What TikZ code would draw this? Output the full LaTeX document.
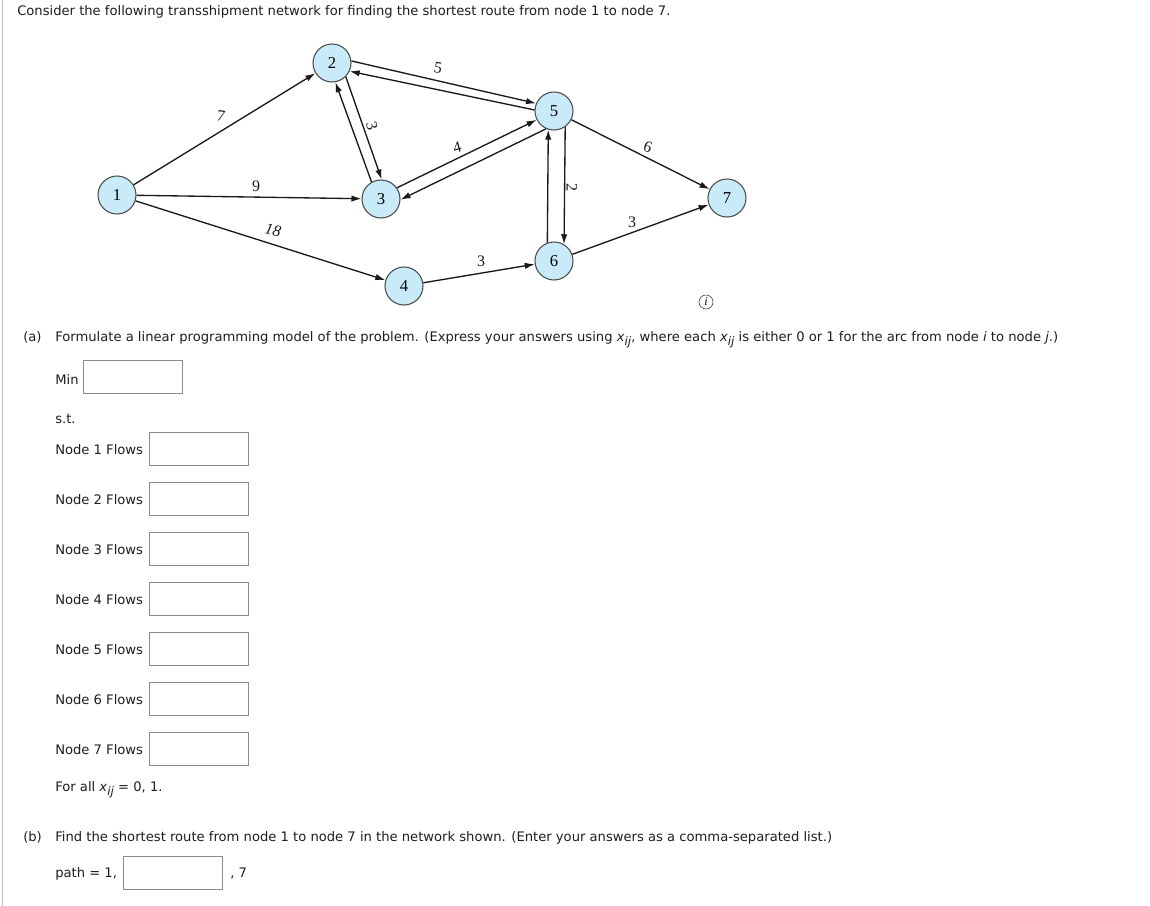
\documentclass[tikz,border=0pt]{standalone}
\usepackage{fontspec}
\setmainfont{DejaVu Sans}
\newfontfamily\netfont{Liberation Serif}
\usetikzlibrary{arrows.meta,calc}
\definecolor{nodefill}{RGB}{200,234,249}
\definecolor{txtcol}{RGB}{30,30,30}
\definecolor{boxline}{RGB}{140,140,140}
\newcommand{\xij}{\textit{x}\raisebox{-3.5pt}{\small\itshape ij}}
\begin{document}
\begin{tikzpicture}[x=0.75pt,y=-0.75pt,
 vert/.style={circle,draw=black!70,fill=nodefill,line width=0.8pt,minimum size=28.5pt,inner sep=0pt,font=\netfont\fontsize{12.5}{12.5}\selectfont},
 arc/.style={draw=black!90,line width=1pt,-{Latex[length=7.5pt,width=4.8pt]}},
 wt/.style={font=\netfont\fontsize{12}{12}\selectfont,inner sep=0pt,text=black!90},
 txt/.style={anchor=base west,inner sep=0pt,font=\fontsize{9.85}{12}\selectfont,text=txtcol},
 ansbox/.style={draw=boxline,line width=0.75pt,minimum width=74pt,minimum height=25pt,inner sep=0pt,anchor=north west}
]
\useasboundingbox (0,0) rectangle (1150,906);
\draw[black!25,line width=0.75pt] (2,0) -- (2,906);

% network
\node[vert] (n1) at (117,195) {1};
\node[vert] (n2) at (332,63) {2};
\node[vert] (n3) at (381,199) {3};
\node[vert] (n4) at (404,286) {4};
\node[vert] (n5) at (554,111) {5};
\node[vert] (n6) at (554,261) {6};
\node[vert] (n7) at (727,198) {7};

\draw[arc] (n1) -- (n2);
\draw[arc] (n1) -- (n3);
\draw[arc] (n1) -- (n4);
\draw[arc] (n4) -- (n6);
\draw[arc] (n5) -- (n7);
\draw[arc] (n6) -- (n7);
\draw[arc] (n2.6) -- (n5.157);
\draw[arc] (n5.177) -- (n2.-25);
\draw[arc] (n2.-45) -- (n3.88);
\draw[arc] (n3.119) -- (n2.-80);
\draw[arc] (n3.35) -- (n5.-153);
\draw[arc] (n5.-114) -- (n3.-2);
\draw[arc] (n6.110) -- (n5.-107);
\draw[arc] (n5.-55) -- (n6.59);

\node[wt,rotate=-10] (w12) at (221,116) {7};
\node[wt] (w13) at (256,186) {9};
\node[wt,rotate=-12] (w14) at (273,230) {\itshape 18};
\node[wt,rotate=-75] (w23) at (372,126) {3};
\node[wt,rotate=-8] (w25) at (438,68) {5};
\node[wt,rotate=15] (w35) at (457,147) {4};
\node[wt,rotate=-90] (w56) at (572,187) {2};
\node[wt,rotate=-20] (w57) at (648,147) {6};
\node[wt] (w67) at (632,222) {3};
\node[wt] (w46) at (481,261) {3};

\node[circle,draw=black!70,line width=0.5pt,minimum size=10.5pt,inner sep=0pt,font=\netfont\itshape\fontsize{9}{9}\selectfont] (info) at (706,302) {i};

% text
\node[txt] (t0) at (17,16) {Consider the following transshipment network for finding the shortest route from node 1 to node 7.};
\node[txt] (ta) at (23,341) {(a)};
\node[txt] (ta2) at (55,341) {Formulate a linear programming model of the problem. (Express your answers using \xij, where each \xij{} is either 0 or 1 for the arc from node \textit{i} to node \textit{j}.)};
\node[txt] (tmin) at (55,384) {Min};
\node[ansbox] (bmin) at (83,360) {};
\node[txt] (tst) at (55,423) {s.t.};
\foreach \k in {1,...,7}{
  \node[txt] (tf\k) at (55,{454+50*(\k-1)}) {Node \k{} Flows};
  \node[ansbox] (bf\k) at (149,{432+50*(\k-1)}) {};
}
\node[txt] (tall) at (55,791) {For all \xij{} = 0, 1.};
\node[txt] (tb) at (23,841) {(b)};
\node[txt] (tb2) at (55,841) {Find the shortest route from node 1 to node 7 in the network shown. (Enter your answers as a comma-separated list.)};
\node[txt] (tpath) at (55,877) {path = 1,};
\node[ansbox] (bpath) at (123,856) {};
\node[txt] (tseven) at (230,877) {, 7};
\end{tikzpicture}
\end{document}
